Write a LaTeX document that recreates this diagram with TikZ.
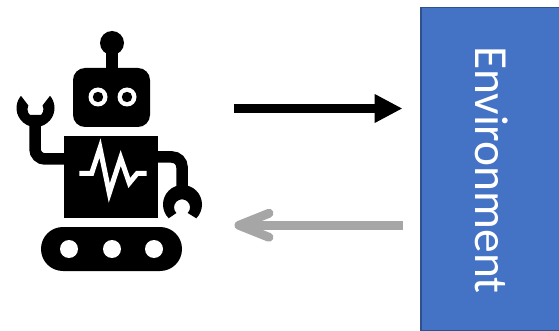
\documentclass[tikz,border=0pt]{standalone}
\usepackage{fontspec}
\usepackage{tikz}
\usetikzlibrary{arrows.meta}
\usetikzlibrary{calc}
\newfontfamily\envfont{Carlito}

\definecolor{envblue}{HTML}{4472C4}
\definecolor{envedge}{HTML}{2F528F}
\definecolor{feedback}{HTML}{A6A6A6}

\tikzset{
    envbox/.style={draw=envedge, line width=1.5pt, fill=envblue, anchor=north west,
        minimum width=145pt, minimum height=323pt, inner sep=0pt},
    limb/.style={black, line width=11.5pt, rounded corners=10pt},
    actionline/.style={-{Triangle[length=28pt, width=27pt]}, black, line width=9.5pt},
    feedbackline/.style={-{Straight Barb[length=30pt, width=24pt, round]}, feedback, line width=9pt},
}

\begin{document}
\begin{tikzpicture}[x=1pt, y=-1pt] % Coordinates follow the 559x331 image
    \useasboundingbox (0,0) rectangle (559,331);

    % === ENVIRONMENT ===
    \node[envbox] (env) at (420,7) {};
    \node[rotate=-90, text=white, font=\envfont\fontsize{47.5}{47.5}\selectfont] (envtext) at (492,170) {Environment};

    % === ARROWS ===
    \coordinate (actionstart) at (233.5,108.5);
    \coordinate (actionend) at (env.west |- actionstart);
    \coordinate (actiontip) at ($(actionend)+(-17.5,0)$);
    \draw[actionline] (actionstart) -- (actiontip);

    \coordinate (feedbackstart) at (402.7,225.3);
    \coordinate (feedbacktip) at (234.5,225.3);
    \draw[feedbackline] (feedbackstart) -- (feedbacktip);

    % === ROBOT ===
    % Antenna and head
    \fill[black] (112,43) circle (12);
    \fill[black] (106,43) rectangle (117.5,70);
    \fill[black, rounded corners=12pt] (73,68) rectangle (150,127);
    % Eyes
    \foreach \eyex in {98,127} {
        \fill[white] (\eyex,97) circle (9.5);
        \fill[black] (\eyex,97) circle (5.2);
    }

    % Body
    \fill[black] (64,136) rectangle (158,218);
    % Pulse on the chest
    \draw[white, line width=5pt, miter limit=10] (79.3,173.3) -- (91.7,173.3) -- (100,148) -- (109.3,193)
        -- (120.7,158) -- (129.3,183) -- (137.3,173.3) -- (146.7,173.3);

    % Arms
    \draw[limb] (35,115) -- (35,159) -- (66,159);
    \draw[limb] (156,157) -- (182,157) -- (182,195);

    % Left claw, open upwards
    \fill[black] (35.5,108) ++(220:19) arc (220:-40:19) -- (42.5,105.5) arc (-28:208:8) -- cycle;
    % Right claw, open downwards
    \fill[black] (182.5,204.5) ++(135:19.5) arc (135:405:19.5) -- (187.7,213) arc (45:-225:8) -- cycle;

    % Tracks
    \fill[black, rounded corners=21.9pt] (41,227) rectangle (182,271);
    \foreach \wheelx in {69,112,154} {
        \fill[white] (\wheelx,249) circle (9);
    }
\end{tikzpicture}
\end{document}
